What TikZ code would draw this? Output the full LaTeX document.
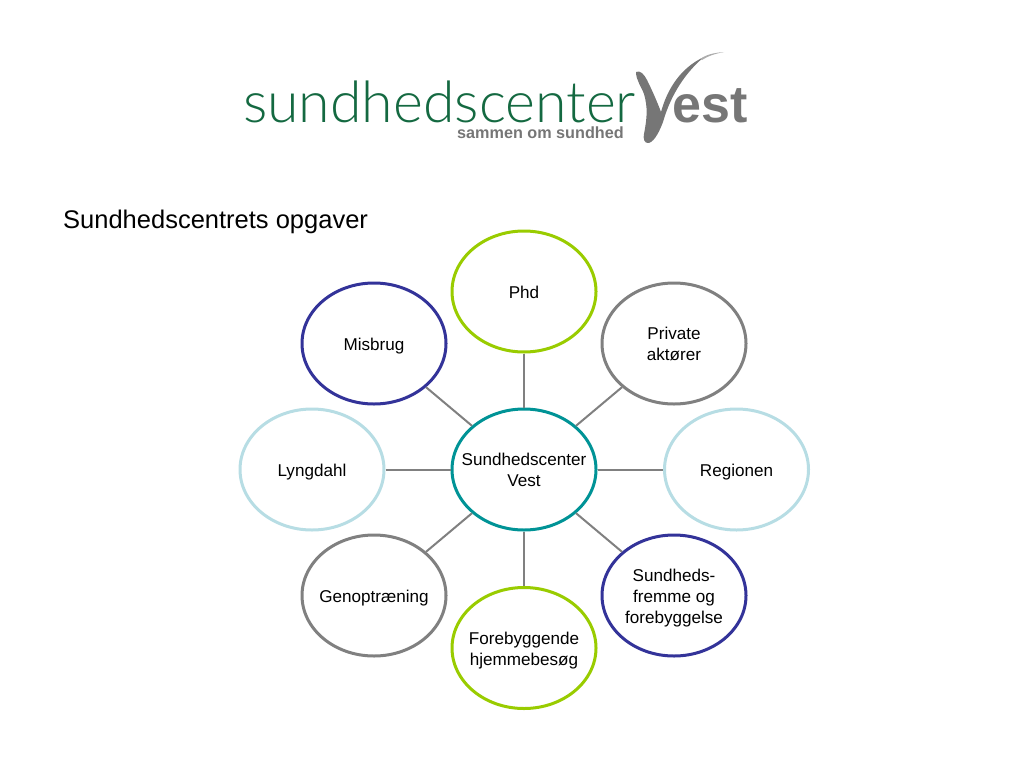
\documentclass[tikz,border=0pt]{standalone}
\usepackage{fontspec}
\setmainfont{Liberation Sans}
\newfontfamily\logothin{Lato Light}
\definecolor{cteal}{RGB}{0,147,150}
\definecolor{clime}{RGB}{153,204,0}
\definecolor{cgrey}{RGB}{128,128,128}
\definecolor{cnavy}{RGB}{51,51,153}
\definecolor{cpale}{RGB}{183,221,228}
\definecolor{cgreen}{RGB}{20,105,65}
\definecolor{clogo}{RGB}{118,118,118}
\usetikzlibrary{shapes.geometric}
\newcommand{\dropthree}{\rule{0pt}{18.3pt}}
\newcommand{\dropone}{\rule{0pt}{14.3pt}}
\tikzset{
  x=1pt,y=-1pt,
  bubble/.style={ellipse,draw=#1,line width=3pt,fill=white,minimum width=144pt,minimum height=121pt,inner sep=-40pt,align=center,font=\fontsize{17.1}{21}\selectfont},
  link/.style={draw=cgrey,line width=2pt}
}
\begin{document}
\begin{tikzpicture}
\useasboundingbox (0,0) rectangle (1024,768);
\node[anchor=west,inner sep=0pt,font=\fontsize{25.5}{28}\selectfont] (title) at (63,222) {Sundhedscentrets opgaver};
% logo
\node[anchor=base west,inner sep=0pt,text=cgreen,font=\logothin\fontsize{57.2}{60}\selectfont] (logoa) at (243,122) {sundhedscenter};
\node[anchor=base west,inner sep=0pt,text=clogo,font=\bfseries\fontsize{52}{60}\selectfont] (logob) at (672,122) {est};
\node[anchor=base west,inner sep=0pt,text=clogo,font=\fontsize{16.2}{20}\selectfont\bfseries] (logoc) at (457,138.5) {sammen om sundhed};
\fill[clogo] (636,72) .. controls (640,70) and (644,74) .. (647,80) .. controls (653,92) and (658,104) .. (661,112)
  .. controls (667,90) and (680,68) .. (704,57) .. controls (686,72) and (671,94) .. (663,122)
  .. controls (660,130) and (655,141) .. (649,143) .. controls (644,144) and (643,138) .. (644,134)
  .. controls (647,118) and (648,108) .. (644,94) .. controls (641,86) and (636,80) .. (636,72) -- cycle;
\fill[clogo!60] (700,59) .. controls (706,55) and (712,53) .. (724,52) .. controls (714,54) and (708,56) .. (702,60) -- cycle;
% bubbles
\node[bubble=cteal] (c) at (524,469.5) {Sundhedscenter\\Vest};
\node[bubble=clime] (phd) at (524,291.5) {\dropone Phd};
\node[bubble=cgrey] (priv) at (674,343.5) {\dropone Private\\aktører};
\node[bubble=cpale] (reg) at (736.5,469.5) {\dropthree Regionen};
\node[bubble=cnavy] (sund) at (674,595.5) {\dropthree Sundheds-\\fremme og\\forebyggelse};
\node[bubble=clime] (fore) at (524,648) {\dropthree Forebyggende\\hjemmebesøg};
\node[bubble=cgrey] (gen) at (374,595.5) {\dropthree Genoptræning};
\node[bubble=cpale] (lyn) at (312,469.5) {\dropthree Lyngdahl};
\node[bubble=cnavy] (mis) at (374,343.5) {\dropthree Misbrug};
\foreach \n in {phd,priv,reg,sund,fore,gen,lyn,mis}{\draw[link] (c) -- (\n);}
\end{tikzpicture}
\end{document}
